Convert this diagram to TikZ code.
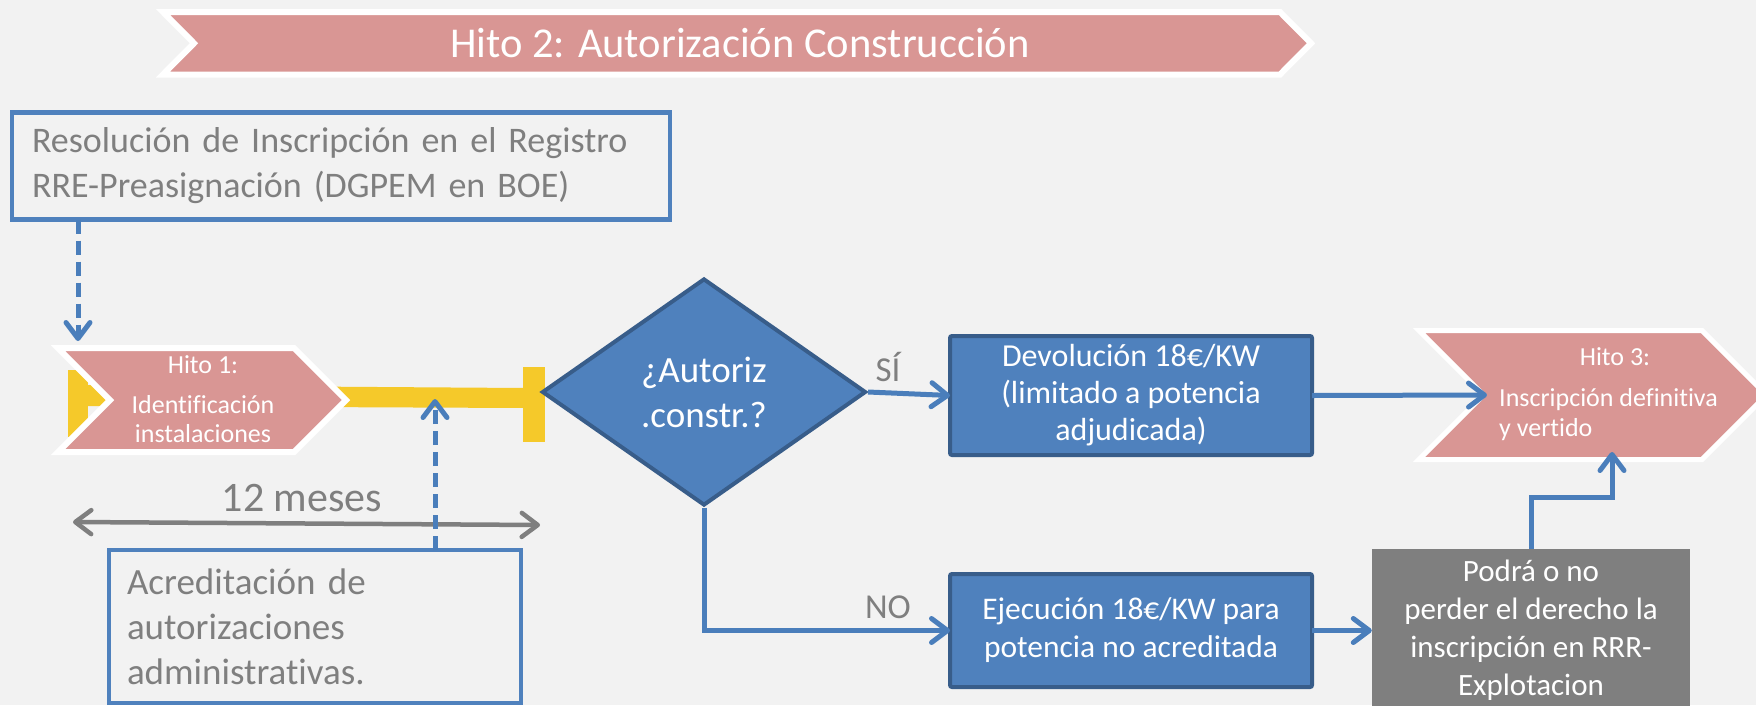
\documentclass[tikz,border=0pt]{standalone}
\usepackage{fontspec}
\setmainfont{Carlito}[Ligatures=NoCommon]
\usetikzlibrary{shapes.geometric,arrows.meta}
\definecolor{bgc}{HTML}{F2F2F2}
\definecolor{pinkc}{HTML}{D99694}
\definecolor{bluef}{HTML}{4F81BD}
\definecolor{blueb}{HTML}{385D8A}
\definecolor{linec}{HTML}{4A7EBB}
\definecolor{grayc}{HTML}{7F7F7F}
\definecolor{yellowc}{HTML}{F5C92A}
\begin{document}
\begin{tikzpicture}[x=1pt,y=-1pt,
  chev/.style={fill=pinkc, draw=white, line width=6pt, line join=miter},
  outbox/.style={draw=bluef, line width=4.5pt, inner sep=0pt, outer sep=0pt, text=grayc, align=left},
  bluebox/.style={rectangle, rounded corners=2pt, fill=bluef, draw=blueb, line width=4pt, text=white, align=center, inner sep=0pt, outer sep=0pt},
  conn/.style={draw=linec, line width=5pt, -{Straight Barb[round,length=16pt,width=24pt]}},
  dconn/.style={conn, dash pattern=on 14pt off 7pt},
  gconn/.style={draw=grayc, line width=4.5pt, {Straight Barb[round,length=16pt,width=24pt]}-{Straight Barb[round,length=16pt,width=24pt]}},
  whitetext/.style={text=white, inner sep=0pt},
  graytext/.style={text=grayc, inner sep=0pt}
]
\useasboundingbox (0,0) rectangle (1756,705);
\fill[bgc] (0,0) rectangle (1756,705);

% yellow timeline
\fill[yellowc] (68,370) rectangle (88,437);
\fill[yellowc] (86,385) -- (525,388) -- (525,408) -- (86,406) -- cycle;
\fill[yellowc] (523,367) rectangle (545,442);

% banner
\draw[chev] (163,12) -- (1280,12) -- (1311,43.25) -- (1280,74.5) -- (163,74.5) -- (194,43.25) -- cycle;
\node[whitetext, font=\fontsize{42.5}{50}\selectfont] (ban) at (740,43) {Hito 2: Autorización Construcción};

% Hito 1
\draw[chev] (58,348) -- (294,348) -- (346,400) -- (294,452) -- (58,452) -- (110,400) -- cycle;
\node[whitetext, font=\fontsize{26}{28}\selectfont] (h1a) at (203,365) {Hito 1:};
\node[whitetext, align=center, font=\fontsize{26}{29}\selectfont] (h1b) at (203,419) {Identificación\\instalaciones};
\coordinate (h1top) at (78,341);

% Hito 3
\draw[chev, line width=5pt] (1419,330.5) -- (1702,330.5) -- (1766.5,395) -- (1702,459.5) -- (1419,459.5) -- (1483.5,395) -- cycle;
\coordinate (h3in) at (1487,395);
\coordinate (h3bot) at (1612,452);
\node[whitetext, font=\fontsize{26}{28}\selectfont] (h3a) at (1615,357) {Hito 3:};
\node[whitetext, align=left, anchor=west, font=\fontsize{26}{30}\selectfont] (h3b) at (1499,415) {Inscripción definitiva\\y vertido};

% outline boxes
\node[outbox, minimum width=658pt, minimum height=107pt, text width=618pt, inner xsep=20pt, font=\fontsize{36}{45}\selectfont] (res) at (341,166) {Resolución de Inscripción en el Registro\\RRE-Preasignación (DGPEM en BOE)};
\node[outbox, minimum width=412pt, minimum height=153pt, text width=376pt, inner xsep=18pt, font=\fontsize{37}{45}\selectfont] (acr) at (315,626.5) {Acreditación de\\autorizaciones\\administrativas.};

% 12 meses
\coordinate (ml) at (73,522);
\coordinate (mr) at (540,525);
\draw[gconn] (ml) -- (mr);
\node[graytext, font=\fontsize{42}{50}\selectfont] (mes) at (302,498) {12 meses};

% decision
\node[diamond, aspect=1.43, fill=bluef, draw=blueb, line width=4pt, minimum width=324pt, minimum height=227pt, inner sep=0pt, text=white, align=center, font=\fontsize{37}{45}\selectfont] (dia) at (704,392) {¿Autoriz\\.constr.?};

% blue boxes
\node[bluebox, minimum width=362pt, minimum height=119pt, font=\fontsize{32}{37}\selectfont] (dev) at (1131,395.5) {Devolución 18€/KW\\(limitado a potencia\\adjudicada)};
\node[bluebox, minimum width=362pt, minimum height=113pt, font=\fontsize{31.5}{38}\selectfont] (eje) at (1131,630.5) {Ejecución 18€/KW para\\potencia no acreditada};

% gray box
\node[fill=grayc, minimum width=318pt, minimum height=162pt, inner sep=0pt, text=white, align=center, font=\fontsize{31}{38}\selectfont] (pod) at (1531,630) {Podrá o no\\perder el derecho la\\inscripción en RRR-\\Explotacion};

% labels
\node[graytext, font=\fontsize{35}{42}\selectfont] (si) at (888,367) {SÍ};
\node[graytext, font=\fontsize{35}{42}\selectfont] (no) at (888,607) {NO};

% connectors
\coordinate (bartop) at (435,399);
\draw[dconn] (res.south -| h1top) -- (h1top);
\draw[dconn] (acr.north -| bartop) -- (bartop);
\draw[conn] (dia.east) -- (dev.west);
\draw[conn] (dev.east) -- (h3in);
\draw[conn] (dia.south) |- (eje.west);
\draw[conn] (eje.east) -- (eje.east -| pod.west);
\draw[conn] (pod.north) -- ++(0,-51) -| (h3bot);
\end{tikzpicture}
\end{document}
